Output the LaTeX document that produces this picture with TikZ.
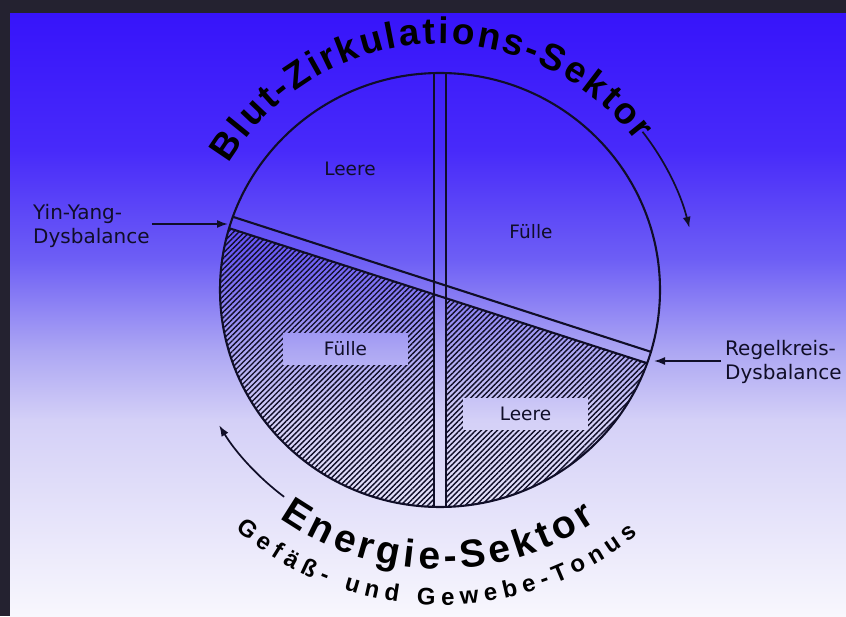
\documentclass[tikz,border=0pt]{standalone}
\usepackage{fontspec}
\setmainfont{Liberation Sans}
\newfontfamily\labfont{DejaVu Sans}
\usetikzlibrary{decorations.text,patterns.meta,arrows.meta}
\definecolor{frame}{RGB}{36,34,48}
\definecolor{gA}{RGB}{55,20,250}
\definecolor{gB}{RGB}{72,42,250}
\definecolor{gC}{RGB}{110,95,245}
\definecolor{gD}{RGB}{172,166,243}
\definecolor{gE}{RGB}{212,208,247}
\definecolor{gF}{RGB}{248,247,253}
\definecolor{ink}{RGB}{16,14,40}
\tikzset{
  lab/.style={font=\labfont\fontsize{20}{24}\selectfont, text=ink, align=left, inner sep=0pt},
  sect/.style={font=\labfont\fontsize{18.5}{22}\selectfont, text=ink, inner sep=0pt},
  outline/.style={draw=ink, line width=2.1pt},
  arr/.style={draw=ink, line width=1.7pt, -{Latex[length=11pt,width=8pt]}},
}
\begin{document}
\begin{tikzpicture}[x=1pt,y=1pt]
\useasboundingbox (0,0) rectangle (846,616);
\fill[frame] (0,0) rectangle (846,616);
% background gradient
\fill[top color=gA,bottom color=gB] (10,465.5) rectangle (846,602);
\fill[top color=gB,bottom color=gC] (10,355.5) rectangle (846,466);
\fill[top color=gC,bottom color=gD] (10,265.5) rectangle (846,356);
\fill[top color=gD,bottom color=gE] (10,195.5) rectangle (846,266);
\fill[top color=gE,bottom color=gF] (10,0) rectangle (846,196);

\coordinate (C) at (440,326);
\def\ang{-17.9}

% sector labels
\node[sect] (leereTop) at (350,447.5) {Leere};
\node[sect] (fuelleTop) at (531,384) {Fülle};
\node[sect, minimum width=125pt, minimum height=32pt] (fuelleBox) at (345.5,267) {Fülle};
\node[sect, minimum width=125pt, minimum height=32pt] (leereBox) at (525.5,202) {Leere};

% hatched lower half
\begin{scope}
  \clip (C) ellipse [x radius=220, y radius=217];
  \clip[shift={(C)}, rotate=\ang] (-400,-6) rectangle (400,-400);
  \fill[pattern={Lines[angle=45,distance=3.8pt,line width=1.4pt]}, pattern color=ink, even odd rule]
    (0,0) rectangle (846,616)
    (434,0) rectangle (446,616)
    (fuelleBox.south west) rectangle (fuelleBox.north east)
    (leereBox.south west) rectangle (leereBox.north east);
\end{scope}

% bars
\begin{scope}
  \clip (C) ellipse [x radius=220, y radius=217];
  \draw[outline] (434,0) -- (434,616);
  \draw[outline] (446,0) -- (446,616);
  \draw[outline, shift={(C)}, rotate=\ang] (-400,6) -- (400,6);
  \draw[outline, shift={(C)}, rotate=\ang] (-400,-6) -- (400,-6);
\end{scope}
\draw[outline] (C) ellipse [x radius=220, y radius=217];

% side labels and arrows
\node[lab, anchor=west] (yy) at (33,390) {Yin-Yang-\\Dysbalance};
\coordinate (yytip) at (228,392);
\draw[arr] (yy.east |- yytip) ++(2,0) -- (yytip);
\node[lab, anchor=west] (rk) at (725,254) {Regelkreis-\\Dysbalance};
\coordinate (rktip) at (654,255);
\draw[arr] (rk.west |- rktip) ++(-4,0) -- (rktip);

% curved arrows
\coordinate (a1) at ([shift={(38:257)}]C);
\draw[arr] (a1) arc[start angle=38, end angle=14, radius=257];
\coordinate (a2) at ([shift={(233:259)}]C);
\draw[arr] (a2) arc[start angle=233, end angle=211.5, radius=259];

% curved texts
\path[decorate, decoration={text along path, text align=fit to path,
  text={|\fontsize{37}{40}\selectfont\bfseries|Blut-Zirkulations-Sektor}}]
  ([shift={(149:246)}]C) arc[start angle=149, end angle=37, radius=246];
\path[decorate, decoration={text along path, text align=fit to path,
  text={|\fontsize{39}{42}\selectfont\bfseries|Energie-Sektor}}]
  ([shift={(235:279)}]C) arc[start angle=235, end angle=304, radius=279];
\path[decorate, decoration={text along path, text align=fit to path,
  text={|\fontsize{24}{28}\selectfont\bfseries|Gefäß- und Gewebe-Tonus}}]
  ([shift={(229.5:315)}]C) arc[start angle=229.5, end angle=309, radius=315];
\end{tikzpicture}
\end{document}
